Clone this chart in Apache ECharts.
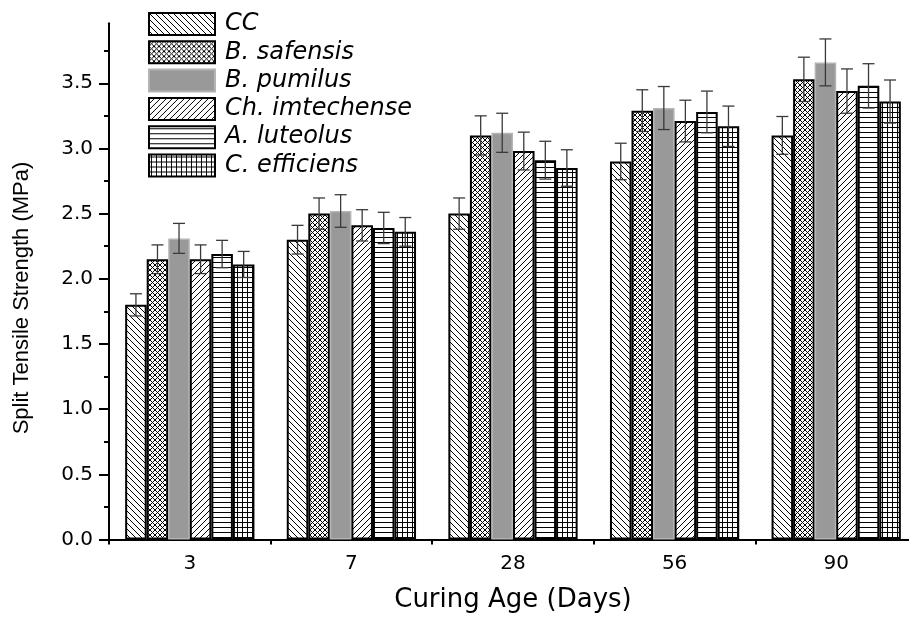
<!DOCTYPE html>
<html>
<head>
<meta charset="utf-8">
<script src="https://cdn.jsdelivr.net/npm/echarts@6/dist/echarts.min.js"></script>
<style>html,body{margin:0;padding:0;background:#fff}#c{width:909px;height:617px}</style>
</head>
<body>
<div id="c"></div>
<script>
// ---- data ----
const categories = ['3', '7', '28', '56', '90'];
const seriesNames = ['CC', 'B. safensis', 'B. pumilus', 'Ch. imtechense', 'A. luteolus', 'C. efficiens'];
const ccValues        = [1.80, 2.30, 2.50, 2.90, 3.10];
const safensisValues  = [2.15, 2.50, 3.10, 3.29, 3.53];
const pumilusValues   = [2.31, 2.52, 3.12, 3.31, 3.66];
const imtechValues    = [2.15, 2.41, 2.98, 3.21, 3.44];
const luteolusValues  = [2.19, 2.39, 2.91, 3.28, 3.48];
const efficiensValues = [2.11, 2.36, 2.85, 3.17, 3.36];
const ccErr        = [0.085, 0.11, 0.12, 0.14, 0.145];
const safensisErr  = [0.11, 0.12, 0.15, 0.16, 0.17];
const pumilusErr   = [0.115, 0.125, 0.15, 0.165, 0.18];
const imtechErr    = [0.11, 0.12, 0.145, 0.16, 0.17];
const luteolusErr  = [0.105, 0.12, 0.145, 0.16, 0.17];
const efficiensErr = [0.10, 0.11, 0.14, 0.155, 0.165];
const yTickLabels = ['0.0', '0.5', '1.0', '1.5', '2.0', '2.5', '3.0', '3.5'];

const allValues = [ccValues, safensisValues, pumilusValues, imtechValues, luteolusValues, efficiensValues];
const allErr = [ccErr, safensisErr, pumilusErr, imtechErr, luteolusErr, efficiensErr];

// ---- hatch patterns ----
function tile(w, h, draw) {
  const c = document.createElement('canvas');
  c.width = w; c.height = h;
  const g = c.getContext('2d');
  g.fillStyle = '#fff'; g.fillRect(0, 0, w, h);
  g.strokeStyle = '#000'; g.lineWidth = 1;
  draw(g, w, h);
  return { image: c, repeat: 'repeat' };
}
function back(g, s) { for (const k of [-s, 0, s]) { g.beginPath(); g.moveTo(k, 0); g.lineTo(k + s, s); g.stroke(); } }
function fwd(g, s) { for (const k of [-s, 0, s]) { g.beginPath(); g.moveTo(k, s); g.lineTo(k + s, 0); g.stroke(); } }
const fills = [
  tile(6, 6, (g) => back(g, 6)),
  tile(5, 5, (g) => { back(g, 5); fwd(g, 5); }),
  '#999999',
  tile(6, 6, (g) => fwd(g, 6)),
  tile(5, 5, (g) => { g.beginPath(); g.moveTo(0, 2.5); g.lineTo(5, 2.5); g.stroke(); }),
  tile(5, 5, (g) => { g.beginPath(); g.moveTo(0, 2.5); g.lineTo(5, 2.5); g.moveTo(2.5, 0); g.lineTo(2.5, 5); g.stroke(); })
];

const N = seriesNames.length;
const GAP = 0.2;

function errRenderer(si) {
  return function (params, api) {
    const c = api.value(0), v = api.value(1), e = api.value(2);
    const band = api.size([1, 0])[0];
    const bw = band * (1 - GAP) / N;
    const x = api.coord([c, v])[0] + (si - (N - 1) / 2) * bw;
    const yT = api.coord([c, v + e])[1];
    const yB = api.coord([c, v - e])[1];
    const hw = 6;
    const st = { stroke: '#3a3a3a', lineWidth: 1.3 };
    return {
      type: 'group', children: [
        { type: 'line', shape: { x1: x, y1: yT, x2: x, y2: yB }, style: st },
        { type: 'line', shape: { x1: x - hw, y1: yT, x2: x + hw, y2: yT }, style: st },
        { type: 'line', shape: { x1: x - hw, y1: yB, x2: x + hw, y2: yB }, style: st }
      ]
    };
  };
}

const series = [];
seriesNames.forEach((name, i) => {
  series.push({
    name: name, type: 'bar', xAxisIndex: 0,
    data: allValues[i],
    barGap: '0%', barCategoryGap: (GAP * 100) + '%',
    itemStyle: {
      color: fills[i],
      borderColor: i === 2 ? '#b4b4b4' : '#000',
      borderWidth: i === 2 ? 1.5 : 2
    },
    emphasis: { disabled: true }
  });
});
seriesNames.forEach((name, i) => {
  series.push({
    type: 'custom', xAxisIndex: 0, z: 5,
    renderItem: errRenderer(i),
    data: allValues[i].map((v, k) => [k, v, allErr[i][k]]),
    encode: { x: 0, y: 1 }
  });
});

const chart = echarts.init(document.getElementById('c'), null, { renderer: 'canvas' });
chart.setOption({
  animation: false,
  backgroundColor: '#fff',
  grid: { left: 109, width: 808, top: 23.3, bottom: 77.5, containLabel: false, outerBoundsMode: 'none' },
  legend: {
    data: seriesNames, orient: 'vertical', left: 148, top: 12, padding: 0, selectedMode: false,
    icon: 'rect', itemWidth: 66, itemHeight: 22, itemGap: 4.3,
    textStyle: { fontFamily: 'DejaVu Sans', fontStyle: 'italic', fontSize: 24, color: '#000', lineHeight: 24, padding: [0, 0, 0, 5] }
  },
  xAxis: [{
    type: 'category', data: categories, position: 'bottom',
    name: 'Curing Age (Days)', nameLocation: 'middle', nameGap: 48,
    nameTextStyle: { fontFamily: 'DejaVu Sans', fontSize: 26, color: '#000' },
    axisLine: { lineStyle: { color: '#000', width: 2 } },
    axisTick: { alignWithLabel: true, length: 8, lineStyle: { color: '#000', width: 2 } },
    axisLabel: { fontFamily: 'DejaVu Sans', fontSize: 20, color: '#000', margin: 14 },
    splitLine: { show: false }
  }, {
    type: 'category', data: categories, position: 'bottom', offset: 0,
    axisLine: { show: false },
    axisTick: { show: true, length: 5, lineStyle: { color: '#000', width: 2 } },
    axisLabel: { show: false },
    splitLine: { show: false }
  }],
  yAxis: {
    type: 'value', min: 0, max: 3.96, interval: 0.5,
    axisLine: { show: true, lineStyle: { color: '#000', width: 2 } },
    axisTick: { show: true, length: 10, lineStyle: { color: '#000', width: 2 },
      customValues: yTickLabels.map(Number) },
    minorTick: { show: true, splitNumber: 2, length: 5, lineStyle: { color: '#000', width: 2 } },
    axisLabel: { fontFamily: 'DejaVu Sans', fontSize: 20, color: '#000', margin: 16,
      customValues: yTickLabels.map(Number),
      formatter: (v) => { const s = v.toFixed(1); return yTickLabels.includes(s) ? s : ''; } },
    splitLine: { show: false }
  },
  graphic: [{
    type: 'text', x: 22, y: 298, rotation: Math.PI / 2,
    style: { text: 'Split Tensile Strength (MPa)', fontFamily: 'Liberation Sans', fontSize: 22, fill: '#000', textAlign: 'center', textVerticalAlign: 'middle' }
  }],
  series: series
});
</script>
</body>
</html>
